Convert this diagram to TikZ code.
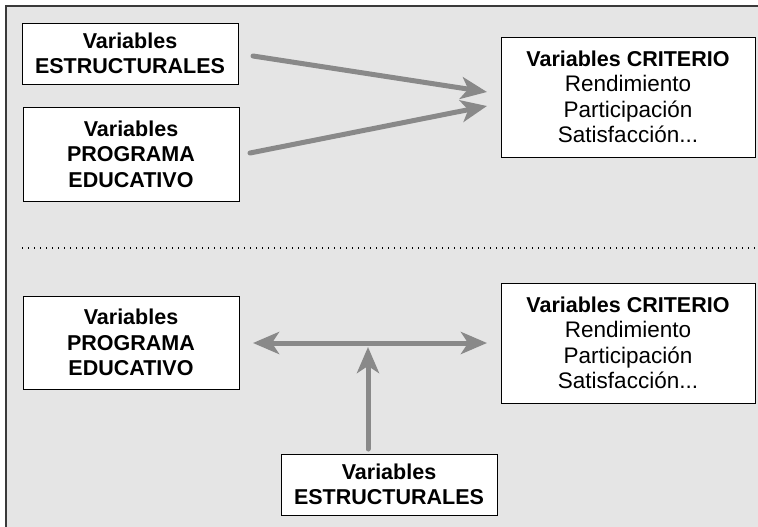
\documentclass[tikz,border=0pt]{standalone}
\usepackage{fontspec}
\setmainfont{Liberation Sans}
\usetikzlibrary{arrows.meta}
\definecolor{bg}{HTML}{E5E5E5}
\definecolor{arr}{HTML}{898989}
\definecolor{frame}{HTML}{3A3A3A}
\tikzset{
  box/.style={draw=black, line width=0.9pt, fill=white, align=center, inner sep=0pt,
    font=\fontsize{21.5}{25.5}\selectfont},
  reg/.style={},
  conn/.style={draw=arr, line width=5pt, -{Stealth[length=26pt,width=22pt,inset=7pt]}},
  conn2/.style={draw=arr, line width=5pt, {Stealth[length=26pt,width=22pt,inset=7pt]}-{Stealth[length=26pt,width=22pt,inset=7pt]}}
}
\newcommand{\rg}[1]{{\fontsize{22.5}{26}\selectfont #1}}
\begin{document}
\begin{tikzpicture}[x=1pt,y=-1pt]
\useasboundingbox (0,0) rectangle (758,527);
\fill[bg] (6,6) rectangle (758,527);
\draw[frame, line width=1.6pt] (758,6) -- (6,6) -- (6,527);
\draw[black, line width=1.4pt, dash pattern=on 1.4pt off 4.6pt] (22,248) -- (758,248);

\node[box, minimum width=216pt, minimum height=61pt] (s1) at (130,53.5)
  {\textbf{Variables}\\\textbf{ESTRUCTURALES}};
\node[box, minimum width=216pt, minimum height=94pt] (p1) at (131,154)
  {\textbf{Variables}\\\textbf{PROGRAMA}\\\textbf{EDUCATIVO}};
\node[box, minimum width=254pt, minimum height=120pt] (c1) at (628,97)
  {\textbf{Variables CRITERIO}\\\rg{Rendimiento}\\\rg{Participación}\\\rg{Satisfacción...}};

\node[box, minimum width=216pt, minimum height=93pt] (p2) at (131,342.5)
  {\textbf{Variables}\\\textbf{PROGRAMA}\\\textbf{EDUCATIVO}};
\node[box, minimum width=254pt, minimum height=120pt] (c2) at (628,343)
  {\textbf{Variables CRITERIO}\\\rg{Rendimiento}\\\rg{Participación}\\\rg{Satisfacción...}};
\node[box, minimum width=216pt, minimum height=61pt] (s2) at (389,484.5)
  {\textbf{Variables}\\\textbf{ESTRUCTURALES}};

\coordinate (t1s) at (253,56);
\coordinate (t1e) at (487,92);
\coordinate (t2s) at (250,153);
\coordinate (t2e) at (487,106);
\coordinate (hl) at (253,343);
\coordinate (hr) at (487,343);
\coordinate (vs) at (368,449);
\coordinate (ve) at (368,347);

\draw[conn, line cap=round] (t1s) -- (t1e);
\draw[conn, line cap=round] (t2s) -- (t2e);
\draw[conn2] (hl) -- (hr);
\draw[conn, line cap=round] (vs) -- (ve);
\end{tikzpicture}
\end{document}
